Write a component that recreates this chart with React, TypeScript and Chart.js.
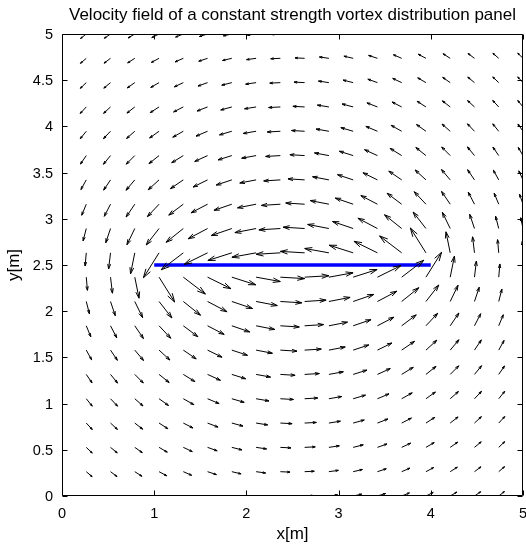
import React, { useEffect, useRef } from "react";
import { Chart, registerables } from "chart.js";

Chart.register(...registerables);

// ---- data -------------------------------------------------------------
const titleText = "Velocity field of a constant strength vortex distribution panel";
const xLabel = "x[m]";
const yLabel = "y[m]";

const xTicks = [0, 1, 2, 3, 4, 5];
const xTickLabels = ["0", "1", "2", "3", "4", "5"];
const yTicks = [0, 0.5, 1, 1.5, 2, 2.5, 3, 3.5, 4, 4.5, 5];
const yTickLabels = ["0", "0.5", "1", "1.5", "2", "2.5", "3", "3.5", "4", "4.5", "5"];

// panel (blue segment)
const panelX = [1, 4];
const panelY = [2.5, 2.5];

// quiver grid positions
const gridX = [0.2632, 0.5263, 0.7895, 1.0526, 1.3158, 1.5789, 1.8421, 2.1053, 2.3684, 2.6316,
  2.8947, 3.1579, 3.4211, 3.6842, 3.9474, 4.2105, 4.4737, 4.7368, 5];
const gridY = [0, 0.2632, 0.5263, 0.7895, 1.0526, 1.3158, 1.5789, 1.8421, 2.1053, 2.3684, 2.6316,
  2.8947, 3.1579, 3.4211, 3.6842, 3.9474, 4.2105, 4.4737, 4.7368, 5];

// horizontal velocity component, one row per gridY value (bottom to top)
const velU = [
  [0.695, 0.760, 0.825, 0.888, 0.946, 0.997, 1.037, 1.065, 1.079, 1.079, 1.065, 1.037, 0.997, 0.946, 0.888, 0.825, 0.760, 0.695, 0.632],
  [0.713, 0.790, 0.869, 0.945, 1.016, 1.078, 1.128, 1.162, 1.179, 1.179, 1.162, 1.128, 1.078, 1.016, 0.945, 0.869, 0.790, 0.713, 0.641],
  [0.728, 0.819, 0.914, 1.008, 1.095, 1.172, 1.233, 1.275, 1.297, 1.297, 1.275, 1.233, 1.172, 1.095, 1.008, 0.914, 0.819, 0.728, 0.644],
  [0.735, 0.843, 0.959, 1.076, 1.186, 1.282, 1.358, 1.410, 1.437, 1.437, 1.410, 1.358, 1.282, 1.186, 1.076, 0.959, 0.843, 0.735, 0.638],
  [0.730, 0.860, 1.003, 1.151, 1.291, 1.412, 1.507, 1.571, 1.603, 1.603, 1.571, 1.507, 1.412, 1.291, 1.151, 1.003, 0.860, 0.730, 0.619],
  [0.707, 0.862, 1.042, 1.233, 1.416, 1.571, 1.687, 1.763, 1.800, 1.800, 1.763, 1.687, 1.571, 1.416, 1.233, 1.042, 0.862, 0.707, 0.582],
  [0.654, 0.837, 1.067, 1.325, 1.571, 1.768, 1.908, 1.994, 2.035, 2.035, 1.994, 1.908, 1.768, 1.571, 1.325, 1.067, 0.837, 0.654, 0.518],
  [0.555, 0.760, 1.059, 1.431, 1.778, 2.027, 2.183, 2.271, 2.310, 2.310, 2.271, 2.183, 2.027, 1.778, 1.431, 1.059, 0.760, 0.555, 0.419],
  [0.387, 0.582, 0.959, 1.570, 2.100, 2.382, 2.522, 2.593, 2.623, 2.623, 2.593, 2.522, 2.382, 2.100, 1.570, 0.959, 0.582, 0.387, 0.278],
  [0.142, 0.233, 0.518, 1.907, 2.698, 2.864, 2.926, 2.954, 2.965, 2.965, 2.954, 2.926, 2.864, 2.698, 1.907, 0.518, 0.233, 0.142, 0.098],
  [-0.142, -0.233, -0.518, -1.907, -2.698, -2.864, -2.926, -2.954, -2.965, -2.965, -2.954, -2.926, -2.864, -2.698, -1.907, -0.518, -0.233, -0.142, -0.098],
  [-0.387, -0.582, -0.959, -1.570, -2.100, -2.382, -2.522, -2.593, -2.623, -2.623, -2.593, -2.522, -2.382, -2.100, -1.570, -0.959, -0.582, -0.387, -0.278],
  [-0.555, -0.760, -1.059, -1.431, -1.778, -2.027, -2.183, -2.271, -2.310, -2.310, -2.271, -2.183, -2.027, -1.778, -1.431, -1.059, -0.760, -0.555, -0.419],
  [-0.654, -0.837, -1.067, -1.325, -1.571, -1.768, -1.908, -1.994, -2.035, -2.035, -1.994, -1.908, -1.768, -1.571, -1.325, -1.067, -0.837, -0.654, -0.518],
  [-0.707, -0.862, -1.042, -1.233, -1.416, -1.571, -1.687, -1.763, -1.800, -1.800, -1.763, -1.687, -1.571, -1.416, -1.233, -1.042, -0.862, -0.707, -0.582],
  [-0.730, -0.860, -1.003, -1.151, -1.291, -1.412, -1.507, -1.571, -1.603, -1.603, -1.571, -1.507, -1.412, -1.291, -1.151, -1.003, -0.860, -0.730, -0.619],
  [-0.735, -0.843, -0.959, -1.076, -1.186, -1.282, -1.358, -1.410, -1.437, -1.437, -1.410, -1.358, -1.282, -1.186, -1.076, -0.959, -0.843, -0.735, -0.638],
  [-0.728, -0.819, -0.914, -1.008, -1.095, -1.172, -1.233, -1.275, -1.297, -1.297, -1.275, -1.233, -1.172, -1.095, -1.008, -0.914, -0.819, -0.728, -0.644],
  [-0.713, -0.790, -0.869, -0.945, -1.016, -1.078, -1.128, -1.162, -1.179, -1.179, -1.162, -1.128, -1.078, -1.016, -0.945, -0.869, -0.790, -0.713, -0.641],
  [-0.695, -0.760, -0.825, -0.888, -0.946, -0.997, -1.037, -1.065, -1.079, -1.079, -1.065, -1.037, -0.997, -0.946, -0.888, -0.825, -0.760, -0.695, -0.632],
];

// vertical velocity component, one row per gridY value (bottom to top)
const velV = [
  [-0.545, -0.520, -0.484, -0.435, -0.375, -0.305, -0.225, -0.138, -0.046, 0.046, 0.138, 0.225, 0.305, 0.375, 0.435, 0.484, 0.520, 0.545, 0.561],
  [-0.615, -0.592, -0.555, -0.503, -0.436, -0.355, -0.263, -0.161, -0.054, 0.054, 0.161, 0.263, 0.355, 0.436, 0.503, 0.555, 0.592, 0.615, 0.626],
  [-0.696, -0.677, -0.641, -0.586, -0.511, -0.418, -0.310, -0.190, -0.064, 0.064, 0.190, 0.310, 0.418, 0.511, 0.586, 0.641, 0.677, 0.696, 0.701],
  [-0.792, -0.780, -0.747, -0.689, -0.604, -0.496, -0.368, -0.226, -0.076, 0.076, 0.226, 0.368, 0.496, 0.604, 0.689, 0.747, 0.780, 0.792, 0.787],
  [-0.903, -0.905, -0.879, -0.819, -0.722, -0.593, -0.439, -0.269, -0.091, 0.091, 0.269, 0.439, 0.593, 0.722, 0.819, 0.879, 0.905, 0.903, 0.883],
  [-1.033, -1.057, -1.046, -0.986, -0.873, -0.715, -0.527, -0.322, -0.108, 0.108, 0.322, 0.527, 0.715, 0.873, 0.986, 1.046, 1.057, 1.033, 0.990],
  [-1.183, -1.244, -1.263, -1.208, -1.070, -0.868, -0.631, -0.381, -0.127, 0.127, 0.381, 0.631, 0.868, 1.070, 1.208, 1.263, 1.244, 1.183, 1.105],
  [-1.346, -1.473, -1.557, -1.521, -1.332, -1.052, -0.747, -0.444, -0.147, 0.147, 0.444, 0.747, 1.052, 1.332, 1.521, 1.557, 1.473, 1.346, 1.220],
  [-1.503, -1.735, -1.979, -2.010, -1.680, -1.253, -0.858, -0.500, -0.164, 0.164, 0.500, 0.858, 1.253, 1.680, 2.010, 1.979, 1.735, 1.503, 1.319],
  [-1.609, -1.956, -2.562, -3.033, -2.061, -1.407, -0.931, -0.534, -0.175, 0.175, 0.534, 0.931, 1.407, 2.061, 3.033, 2.562, 1.956, 1.609, 1.378],
  [-1.609, -1.956, -2.562, -3.033, -2.061, -1.407, -0.931, -0.534, -0.175, 0.175, 0.534, 0.931, 1.407, 2.061, 3.033, 2.562, 1.956, 1.609, 1.378],
  [-1.503, -1.735, -1.979, -2.010, -1.680, -1.253, -0.858, -0.500, -0.164, 0.164, 0.500, 0.858, 1.253, 1.680, 2.010, 1.979, 1.735, 1.503, 1.319],
  [-1.346, -1.473, -1.557, -1.521, -1.332, -1.052, -0.747, -0.444, -0.147, 0.147, 0.444, 0.747, 1.052, 1.332, 1.521, 1.557, 1.473, 1.346, 1.220],
  [-1.183, -1.244, -1.263, -1.208, -1.070, -0.868, -0.631, -0.381, -0.127, 0.127, 0.381, 0.631, 0.868, 1.070, 1.208, 1.263, 1.244, 1.183, 1.105],
  [-1.033, -1.057, -1.046, -0.986, -0.873, -0.715, -0.527, -0.322, -0.108, 0.108, 0.322, 0.527, 0.715, 0.873, 0.986, 1.046, 1.057, 1.033, 0.990],
  [-0.903, -0.905, -0.879, -0.819, -0.722, -0.593, -0.439, -0.269, -0.091, 0.091, 0.269, 0.439, 0.593, 0.722, 0.819, 0.879, 0.905, 0.903, 0.883],
  [-0.792, -0.780, -0.747, -0.689, -0.604, -0.496, -0.368, -0.226, -0.076, 0.076, 0.226, 0.368, 0.496, 0.604, 0.689, 0.747, 0.780, 0.792, 0.787],
  [-0.696, -0.677, -0.641, -0.586, -0.511, -0.418, -0.310, -0.190, -0.064, 0.064, 0.190, 0.310, 0.418, 0.511, 0.586, 0.641, 0.677, 0.696, 0.701],
  [-0.615, -0.592, -0.555, -0.503, -0.436, -0.355, -0.263, -0.161, -0.054, 0.054, 0.161, 0.263, 0.355, 0.436, 0.503, 0.555, 0.592, 0.615, 0.626],
  [-0.545, -0.520, -0.484, -0.435, -0.375, -0.305, -0.225, -0.138, -0.046, 0.046, 0.138, 0.225, 0.305, 0.375, 0.435, 0.484, 0.520, 0.545, 0.561],
];

// ---- styling ----------------------------------------------------------
const W = 526;
const H = 545;
const FONT = '"Liberation Sans", Arial, Helvetica, sans-serif';

type QPoint = { x: number; y: number; u: number; v: number };

const quiverPlugin = {
  id: "quiverArrows",
  afterDatasetsDraw(chart: any) {
    const ctx: CanvasRenderingContext2D = chart.ctx;
    const xs = chart.scales.x;
    const ys = chart.scales.y;
    const area = chart.chartArea;
    const pts: QPoint[] = chart.data.datasets[1].data;
    // MATLAB-like autoscale: longest arrow = 0.9 * grid spacing
    let maxLen = 0;
    pts.forEach((p) => {
      const l = Math.hypot(p.u, p.v);
      if (l > maxLen) maxLen = l;
    });
    const spanY = gridY[gridY.length - 1] - gridY[0];
    const dx = spanY / gridY.length;
    const del = Math.sqrt(dx * dx + dx * dx);
    const s = maxLen > 0 ? (0.9 * del) / maxLen : 0;
    const alpha = 0.3;
    const beta = 0.3;
    ctx.save();
    ctx.beginPath();
    ctx.rect(area.left, area.top, area.right - area.left, area.bottom - area.top);
    ctx.clip();
    ctx.strokeStyle = "#000000";
    ctx.lineWidth = 1;
    ctx.lineJoin = "miter";
    ctx.lineCap = "butt";
    const px = (v: number) => xs.getPixelForValue(v);
    const py = (v: number) => ys.getPixelForValue(v);
    pts.forEach((p) => {
      const u = p.u * s;
      const v = p.v * s;
      const tx = p.x + u;
      const ty = p.y + v;
      const h1x = tx - alpha * (u + beta * v);
      const h1y = ty - alpha * (v - beta * u);
      const h2x = tx - alpha * (u - beta * v);
      const h2y = ty - alpha * (v + beta * u);
      ctx.beginPath();
      ctx.moveTo(px(p.x), py(p.y));
      ctx.lineTo(px(tx), py(ty));
      ctx.moveTo(px(h1x), py(h1y));
      ctx.lineTo(px(tx), py(ty));
      ctx.lineTo(px(h2x), py(h2y));
      ctx.stroke();
    });
    ctx.restore();
  },
};

const axesPlugin = {
  id: "matlabAxes",
  afterDraw(chart: any) {
    const ctx: CanvasRenderingContext2D = chart.ctx;
    const xs = chart.scales.x;
    const ys = chart.scales.y;
    const a = chart.chartArea;
    const L = Math.round(a.left) + 0.5;
    const R = Math.round(a.right) - 0.5;
    const T = Math.round(a.top) + 0.5;
    const B = Math.round(a.bottom) - 0.5;
    const tick = 5;
    ctx.save();
    ctx.strokeStyle = "#000000";
    ctx.lineWidth = 1;
    ctx.beginPath();
    ctx.rect(L, T, R - L, B - T);
    ctx.stroke();
    // ticks, inward on all four sides
    ctx.beginPath();
    xTicks.forEach((t) => {
      const x = Math.round(xs.getPixelForValue(t)) + 0.5;
      ctx.moveTo(x, B);
      ctx.lineTo(x, B - tick);
      ctx.moveTo(x, T);
      ctx.lineTo(x, T + tick);
    });
    yTicks.forEach((t) => {
      const y = Math.round(ys.getPixelForValue(t)) + 0.5;
      ctx.moveTo(L, y);
      ctx.lineTo(L + tick, y);
      ctx.moveTo(R, y);
      ctx.lineTo(R - tick, y);
    });
    ctx.stroke();
    // tick labels
    ctx.fillStyle = "#000000";
    ctx.font = `14.5px ${FONT}`;
    ctx.textAlign = "center";
    ctx.textBaseline = "alphabetic";
    xTicks.forEach((t, i) => {
      ctx.fillText(xTickLabels[i], xs.getPixelForValue(t), 518);
    });
    ctx.textAlign = "right";
    yTicks.forEach((t, i) => {
      ctx.fillText(yTickLabels[i], a.left - 9, ys.getPixelForValue(t) + 5);
    });
    // title and axis labels
    const cx = (a.left + a.right) / 2;
    const cy = (a.top + a.bottom) / 2;
    ctx.font = `17px ${FONT}`;
    ctx.textAlign = "center";
    ctx.fillText(titleText, cx, 20);
    ctx.fillText(xLabel, cx, 538.5);
    ctx.save();
    ctx.translate(19, cy);
    ctx.rotate(-Math.PI / 2);
    ctx.fillText(yLabel, 0, 0);
    ctx.restore();
    ctx.restore();
  },
};

export default function App() {
  const canvasRef = useRef<HTMLCanvasElement | null>(null);

  useEffect(() => {
    if (!canvasRef.current) return;
    const quiverData: QPoint[] = [];
    gridY.forEach((y, m) => {
      gridX.forEach((x, k) => {
        quiverData.push({ x, y, u: velU[m][k], v: velV[m][k] });
      });
    });
    const panelData = panelX.map((x, i) => ({ x, y: panelY[i] }));

    const chart = new Chart(canvasRef.current, {
      type: "scatter",
      data: {
        datasets: [
          {
            label: "panel",
            data: panelData,
            showLine: true,
            borderColor: "#0000ff",
            backgroundColor: "#0000ff",
            borderWidth: 3.5,
            pointRadius: 0,
            fill: false,
          },
          {
            label: "velocity",
            data: quiverData as any,
            pointRadius: 0,
            showLine: false,
          },
        ],
      },
      options: {
        animation: false,
        responsive: false,
        maintainAspectRatio: false,
        devicePixelRatio: 1,
        events: [],
        layout: { padding: { left: 62, right: 3, top: 34, bottom: 49 } },
        plugins: {
          legend: { display: false },
          tooltip: { enabled: false },
          title: { display: false },
        },
        scales: {
          x: { type: "linear", min: 0, max: 5, display: false },
          y: { type: "linear", min: 0, max: 5, display: false },
        },
      },
      plugins: [quiverPlugin, axesPlugin],
    });
    return () => chart.destroy();
  }, []);

  return (
    <div style={{ position: "absolute", left: 0, top: 0, width: W, height: H, background: "#ffffff" }}>
      <canvas ref={canvasRef} width={W} height={H} style={{ width: W, height: H, display: "block" }} />
    </div>
  );
}
